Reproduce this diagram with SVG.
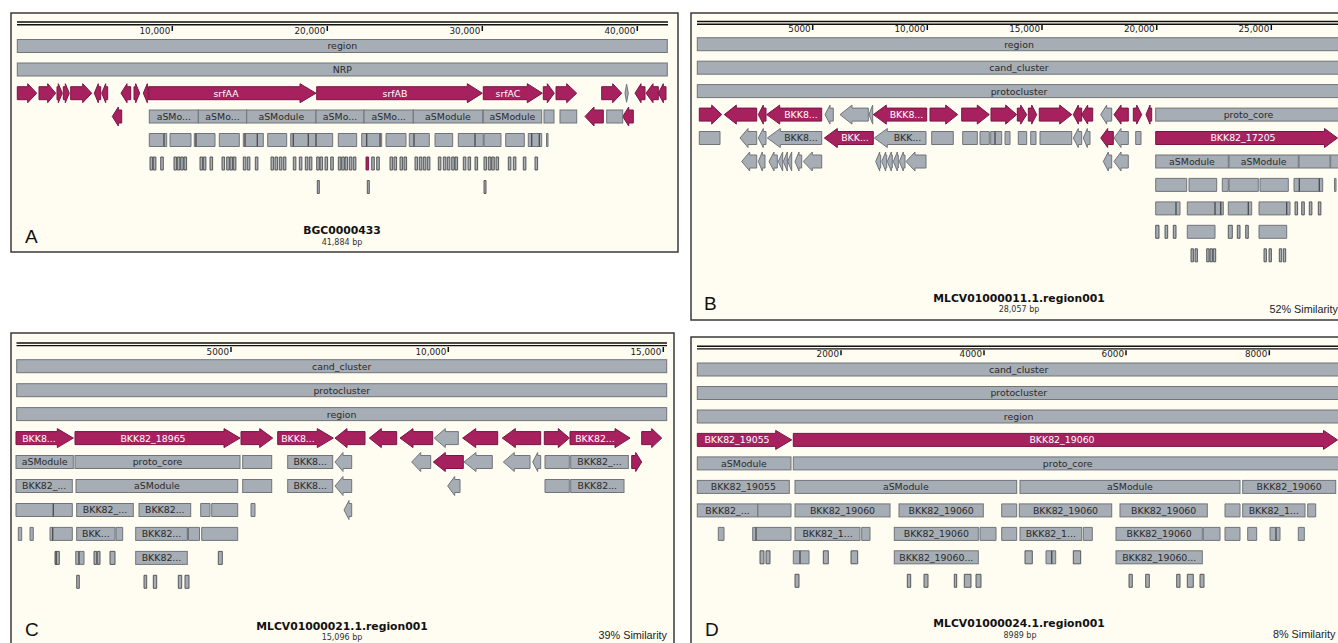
<svg xmlns="http://www.w3.org/2000/svg" width="1338" height="643" viewBox="0 0 1338 643">
<style>
.bg{fill:#fffcf2;stroke:#3a3a3a;stroke-width:1.5}
.rl{stroke:#111;stroke-width:1.4;fill:none}
.tk{stroke:#111;stroke-width:1.5;fill:none}
.tl{font-family:"DejaVu Sans",Verdana,sans-serif;font-size:8.8px;fill:#222;text-anchor:end}
.b{fill:#a6adb5;stroke:#6f757b;stroke-width:1}
.m{fill:#a8215f;stroke:#7a1445;stroke-width:1}
.ln{stroke:#4a4a4a;stroke-width:1.3;fill:none}
.bar{fill:#a6adb5;stroke:#4d4d4d;stroke-width:0.9}
.barm{fill:#a8215f;stroke:#7a1445;stroke-width:0.9}
.lb{font-family:"DejaVu Sans",Verdana,sans-serif;font-size:9.4px;fill:#2a2a2a;text-anchor:middle}
.lw{font-family:"DejaVu Sans",Verdana,sans-serif;font-size:9.4px;fill:#fff;text-anchor:middle}
.ttl{font-family:"DejaVu Sans",Verdana,sans-serif;font-size:10.8px;font-weight:bold;fill:#111;text-anchor:middle}
.sz{font-family:"DejaVu Sans",Verdana,sans-serif;font-size:8px;fill:#333;text-anchor:middle}
.pl{font-family:"Liberation Sans",Arial,sans-serif;font-size:19px;fill:#111}
.sim{font-family:"Liberation Sans",Arial,sans-serif;font-size:10.8px;fill:#222}
</style>
<rect width="1338" height="643" fill="#ffffff"/>

<!-- ================= PANEL A ================= -->
<g id="panel-A">
<rect class="bg" x="11" y="13" width="667" height="239"/>
<g id="A-ruler">
<path class="rl" d="M17 22H668M17 24.8H668"/>
<path class="tk" d="M172.3 26v5M327.3 26v5M482.3 26v5M637.3 26v5"/>
<text class="tl" x="170.3" y="33.5">10,000</text>
<text class="tl" x="325.3" y="33.5">20,000</text>
<text class="tl" x="480.3" y="33.5">30,000</text>
<text class="tl" x="635.3" y="33.5">40,000</text>
</g>
<g id="A-region"><rect class="b" x="17.3" y="39.5" width="650" height="13"/><text class="lb" x="342.3" y="49.4">region</text></g>
<g id="A-NRP"><rect class="b" x="17.3" y="63" width="650" height="13"/><text class="lb" x="342.3" y="72.9">NRP</text></g>
<g id="A-genes">
<path class="m" d="M17.3 86.7h10.4v-3l9 9.5l-9 9.5v-3h-10.4z M39 86.7h8.7v-3l8 9.5l-8 9.5v-3h-8.7z M57 86.7h1.3v-3l4 9.5l-4 9.5v-3h-1.3z M63.3 86.7h2v-3l4 9.5l-4 9.5v-3h-2z M70.7 86.7h12v-3l9 9.5l-9 9.5v-3h-12z M100.7 86.7h-2.4v-3l-4 9.5l4 9.5v-3h2.4z M107.7 86.7h-2v-3l-4 9.5l4 9.5v-3h2z M130.7 86.7h-3.7v-3l-6 9.5l6 9.5v-3h3.7z M134 86.7h1.7v-3l4 9.5l-4 9.5v-3h-1.7z M148.3 86.7h-1v-3l-4 9.5l4 9.5v-3h1z M543.3 86.7h4v-3l7 9.5l-7 9.5v-3h-4z M556 86.7h10.7v-3l10 9.5l-10 9.5v-3h-10.7z M601.7 86.7h11v-3l9 9.5l-9 9.5v-3h-11z M645 86.7h-4v-3l-6 9.5l6 9.5v-3h4z M658.3 86.7h-5.3v-3l-7 9.5l7 9.5v-3h5.3z M666 86.7h-2.7v-3l-5 9.5l5 9.5v-3h2.7z"/>
<path class="b" d="M626.6 84.2L628.3 93.2L626.6 102.2L625 93.2z"/>
<g id="A-srfAA"><path class="m" d="M148.8 86.7h151.2v-3l16 9.5l-16 9.5v-3h-151.2z"/><text class="lw" x="226" y="96.6">srfAA</text></g>
<g id="A-srfAB"><path class="m" d="M316.7 86.7h150.6v-3l15 9.5l-15 9.5v-3h-150.6z"/><text class="lw" x="395" y="96.6">srfAB</text></g>
<g id="A-srfAC"><path class="m" d="M483.3 86.7h44v-3l15 9.5l-15 9.5v-3h-44z"/><text class="lw" x="508" y="96.6">srfAC</text></g>
</g>
<g id="A-row3">
<path class="m" d="M121.7 110h-3.4v-3l-6 9.5l6 9.5v-3h3.4z M603.3 110h-9.3v-3l-9 9.5l9 9.5v-3h9.3z M633.3 110h-4.6v-3l-6 9.5l6 9.5v-3h4.6z"/>
<rect class="b" x="149.3" y="110" width="49" height="13"/><text class="lb" x="173.8" y="119.9">aSMo...</text>
<rect class="b" x="198.3" y="110" width="48.4" height="13"/><text class="lb" x="222.5" y="119.9">aSMo...</text>
<rect class="b" x="246.7" y="110" width="69.3" height="13"/><text class="lb" x="281.3" y="119.9">aSModule</text>
<rect class="b" x="316" y="110" width="48" height="13"/><text class="lb" x="340" y="119.9">aSMo...</text>
<rect class="b" x="364" y="110" width="49.3" height="13"/><text class="lb" x="388.7" y="119.9">aSMo...</text>
<rect class="b" x="413.3" y="110" width="69.4" height="13"/><text class="lb" x="448" y="119.9">aSModule</text>
<rect class="b" x="483.3" y="110" width="58.4" height="13"/><text class="lb" x="512.5" y="119.9">aSModule</text>
<rect class="b" x="544" y="110" width="10" height="13"/>
<rect class="b" x="560" y="110" width="16.7" height="13"/>
<rect class="b" x="606.7" y="110" width="16" height="13"/>
</g>
<g id="A-row4">
<path class="b" d="M149.3 133.5h17.4v13h-17.4z M170 133.5h21v13h-21z M194.3 133.5h20.7v13h-20.7z M219.3 133.5h20v13h-20z M243.3 133.5h20v13h-20z M267.7 133.5h19v13h-19z M290.7 133.5h42v13h-42z M338.3 133.5h18.4v13h-18.4z M361.7 133.5h20v13h-20z M386 133.5h20v13h-20z M409.3 133.5h20v13h-20z M435 133.5h17.7v13h-17.7z M458.3 133.5h25v13h-25z M484 133.5h17v13h-17z M505.7 133.5h18.6v13h-18.6z M528.3 133.5h13.4v13h-13.4z M546.5 133.5h1.5v13h-1.5z"/>
<path class="ln" d="M164 133.5v13M196 133.5v13M245 133.5v13M257.3 133.5v13M293.3 133.5v13M308.3 133.5v13M316 133.5v13M366.7 133.5v13M380 133.5v13M414 133.5v13M475 133.5v13M531.7 133.5v13M539.3 133.5v13"/>
</g>
<g id="A-row5">
<path class="bar" d="M150 157h2.6v13h-2.6z M153.3 157h2.6v13h-2.6z M160.7 157h2.6v13h-2.6z M174 157h2.6v13h-2.6z M177.3 157h2.6v13h-2.6z M180.7 157h2.6v13h-2.6z M184 157h2.6v13h-2.6z M200 157h2.6v13h-2.6z M203.3 157h2.6v13h-2.6z M210 157h2.6v13h-2.6z M222 157h2.6v13h-2.6z M226.7 157h2.6v13h-2.6z M230 157h2.6v13h-2.6z M233.3 157h2.6v13h-2.6z M243.3 157h2.6v13h-2.6z M247.3 157h2.6v13h-2.6z M255.3 157h2.6v13h-2.6z M271 157h2.6v13h-2.6z M275 157h2.6v13h-2.6z M279.3 157h2.6v13h-2.6z M283.3 157h2.6v13h-2.6z M293.3 157h2.6v13h-2.6z M299.3 157h2.6v13h-2.6z M305.3 157h2.6v13h-2.6z M309.3 157h2.6v13h-2.6z M316.7 157h2.6v13h-2.6z M320 157h2.6v13h-2.6z M325 157h2.6v13h-2.6z M330.7 157h2.6v13h-2.6z M338.3 157h2.6v13h-2.6z M341.7 157h2.6v13h-2.6z M345 157h2.6v13h-2.6z M349.3 157h2.6v13h-2.6z M353.3 157h2.6v13h-2.6z M371.7 157h2.6v13h-2.6z M376.7 157h2.6v13h-2.6z M390 157h2.6v13h-2.6z M394 157h2.6v13h-2.6z M400 157h2.6v13h-2.6z M404 157h2.6v13h-2.6z M415 157h2.6v13h-2.6z M419.3 157h2.6v13h-2.6z M423.3 157h2.6v13h-2.6z M427.3 157h2.6v13h-2.6z M438.3 157h2.6v13h-2.6z M443.3 157h2.6v13h-2.6z M447.3 157h2.6v13h-2.6z M451.7 157h2.6v13h-2.6z M455 157h2.6v13h-2.6z M463.3 157h2.6v13h-2.6z M468 157h2.6v13h-2.6z M475 157h2.6v13h-2.6z M484 157h2.6v13h-2.6z M488.3 157h2.6v13h-2.6z M491.7 157h2.6v13h-2.6z M496 157h2.6v13h-2.6z M508.3 157h2.6v13h-2.6z M513.3 157h2.6v13h-2.6z M523.3 157h2.6v13h-2.6z M535 157h2.6v13h-2.6z"/>
<path class="barm" d="M366 157h2.6v13h-2.6z"/>
</g>
<g id="A-row6"><path class="bar" d="M317.3 180.5h2v13h-2z M367.3 180.5h2v13h-2z M484 180.5h2v13h-2z"/></g>
<g id="A-caption">
<text class="pl" x="25" y="243">A</text>
<text class="ttl" x="342" y="234">BGC0000433</text>
<text class="sz" x="342" y="245">41,884 bp</text>
</g>
</g>

<!-- ================= PANEL B ================= -->
<g id="panel-B">
<rect class="bg" x="691" y="13" width="700" height="307"/>
<g id="B-ruler">
<path class="rl" d="M697 21.5H1340M697 24.2H1340"/>
<path class="tk" d="M812.7 25v5M927.3 25v5M1042 25v5M1156.7 25v5M1271.3 25v5"/>
<text class="tl" x="810.7" y="32.3">5000</text>
<text class="tl" x="925.3" y="32.3">10,000</text>
<text class="tl" x="1040" y="32.3">15,000</text>
<text class="tl" x="1154.7" y="32.3">20,000</text>
<text class="tl" x="1269.3" y="32.3">25,000</text>
</g>
<g id="B-region"><rect class="b" x="697.3" y="37.7" width="644" height="13"/><text class="lb" x="1019" y="47.6">region</text></g>
<g id="B-cand"><rect class="b" x="697.3" y="61.2" width="644" height="13"/><text class="lb" x="1019" y="71.1">cand_cluster</text></g>
<g id="B-proto"><rect class="b" x="697.3" y="84.6" width="644" height="13"/><text class="lb" x="1019" y="94.5">protocluster</text></g>
<g id="B-genes">
<path class="m" d="M699.3 108.1h12.4v-3l10 9.5l-10 9.5v-3h-12.4z M756.7 108.1h-20.4v-3l-12 9.5l12 9.5v-3h20.4z M766 108.1h-2.7v-3l-5 9.5l5 9.5v-3h2.7z M930 108.1h15.7v-3l12 9.5l-12 9.5v-3h-15.7z M961.7 108.1h15.6v-3l12 9.5l-12 9.5v-3h-15.6z M991 108.1h14.7v-3l11 9.5l-11 9.5v-3h-14.7z M1017.3 108.1h3.4v-3l6 9.5l-6 9.5v-3h-3.4z M1028.3 108.1h3.4v-3l5 9.5l-5 9.5v-3h-3.4z M1039.3 108.1h20.4v-3l12 9.5l-12 9.5v-3h-20.4z M1081.7 108.1h-3.4v-3l-5 9.5l5 9.5v-3h3.4z M1092.7 108.1h-5v-3l-6 9.5l6 9.5v-3h5z M1128.3 108.1h-7.3v-3l-7 9.5l7 9.5v-3h7.3z M1133.3 108.1h3.4v-3l5 9.5l-5 9.5v-3h-3.4z M1151.7 108.1h-1.7v-3l-4 9.5l4 9.5v-3h1.7z"/>
<path class="b" d="M833.3 108.1h-3.3v-3l-5 9.5l5 9.5v-3h3.3z M868.3 108.1h-16.3v-3l-12 9.5l12 9.5v-3h16.3z M872.7 105.1l-3.7 9.5l3.7 9.5z M1111.7 108.1h-5v-3l-6 9.5l6 9.5v-3h5z"/>
<g id="B-gene-a"><path class="m" d="M821.7 108.1h-42v-3l-13 9.5l13 9.5v-3h42z"/><text class="lw" x="801" y="118">BKK8...</text></g>
<g id="B-gene-b"><path class="m" d="M926.7 108.1h-40.4v-3l-13 9.5l13 9.5v-3h40.4z"/><text class="lw" x="906.5" y="118">BKK8...</text></g>
<g id="B-protocore"><rect class="b" x="1155.7" y="108.1" width="186" height="13"/><text class="lb" x="1248.5" y="118">proto_core</text></g>
</g>
<g id="B-row5">
<path class="b" d="M699.3 131.5h20.7v13h-20.7z M756.7 131.5h-8.7v-3l-8 9.5l8 9.5v-3h8.7z M766 131.5h-2.7v-3l-5 9.5l5 9.5v-3h2.7z M931.7 131.5h21.6v13h-21.6z M962.7 131.5h14.6v13h-14.6z M980 131.5h9.3v13h-9.3z M990.7 131.5h11v13h-11z M1005 131.5h5v13h-5z M1018.3 131.5h8.4v13h-8.4z M1030.7 131.5h5.3v13h-5.3z M1040 131.5h31.7v13h-31.7z M1081.7 131.5h-3.4v-3l-5 9.5l5 9.5v-3h3.4z M1090 131.5h-2.7v-3l-4 9.5l4 9.5v-3h2.7z M1128.3 131.5h-7.3v-3l-7 9.5l7 9.5v-3h7.3z M1135.7 131.5h5.3v13h-5.3z"/>
<path class="ln" d="M995 131.5v13"/>
<path class="m" d="M1113.3 131.5h-5.6v-3l-7 9.5l7 9.5v-3h5.6z"/>
<g id="B-gene-c"><path class="b" d="M821.7 131.5h-41.4v-3l-13 9.5l13 9.5v-3h41.4z"/><text class="lb" x="801" y="141.4">BKK8...</text></g>
<g id="B-gene-d"><path class="m" d="M873.3 131.5h-36v-3l-13 9.5l13 9.5v-3h36z"/><text class="lw" x="855" y="141.4">BKK...</text></g>
<g id="B-gene-e"><path class="b" d="M926 131.5h-38.7v-3l-13 9.5l13 9.5v-3h38.7z"/><text class="lb" x="907.5" y="141.4">BKK...</text></g>
<g id="B-BKK82_17205"><path class="m" d="M1155.7 131.5h168.8v-3l13 9.5l-13 9.5v-3h-168.8z"/><text class="lw" x="1243" y="141.4">BKK82_17205</text></g>
</g>
<g id="B-row6">
<path class="b" d="M756.7 155h-7v-3l-8 9.5l8 9.5v-3h7z M765 155h-2.7v-3l-4 9.5l4 9.5v-3h2.7z M777.3 155h-3.3v-3l-5 9.5l5 9.5v-3h3.3z M782.7 152l-4.4 9.5l4.4 9.5z M787.3 152l-4 9.5l4 9.5z M791.7 152l-4 9.5l4 9.5z M801.7 155h-2.7v-3l-4 9.5l4 9.5v-3h2.7z M821.7 155h-9.4v-3l-9 9.5l9 9.5v-3h9.4z M880.7 155h-1v-3l-4 9.5l4 9.5v-3h1z M886.7 155h-1v-3l-4 9.5l4 9.5v-3h1z M892.3 155h-1v-3l-4 9.5l4 9.5v-3h1z M898.3 155h-1v-3l-4 9.5l4 9.5v-3h1z M905 155h-1.7v-3l-4 9.5l4 9.5v-3h1.7z M926 155h-11v-3l-9 9.5l9 9.5v-3h11z M1111.7 155h-3.4v-3l-5 9.5l5 9.5v-3h3.4z M1128.3 155h-7.3v-3l-7 9.5l7 9.5v-3h7.3z"/>
<rect class="b" x="1155.7" y="155" width="72.6" height="13"/><text class="lb" x="1192" y="164.9">aSModule</text>
<rect class="b" x="1229" y="155" width="69.3" height="13"/><text class="lb" x="1263.7" y="164.9">aSModule</text>
<rect class="b" x="1299" y="155" width="31" height="13"/>
<rect class="b" x="1330.7" y="155" width="11" height="13"/>
</g>
<g id="B-row7">
<path class="b" d="M1155.7 178.4h31v13h-31z M1189 178.4h27.7v13h-27.7z M1222.3 178.4h6v13h-6z M1229 178.4h29.3v13h-29.3z M1260 178.4h28.3v13h-28.3z M1294 178.4h28.7v13h-28.7z M1334.5 178.4h1.5v13h-1.5z"/>
<path class="ln" d="M1299.3 178.4v13M1319.3 178.4v13"/>
</g>
<g id="B-row8">
<path class="b" d="M1155.7 201.9h24.3v13h-24.3z M1187.3 201.9h36v13h-36z M1228.3 201.9h23.4v13h-23.4z M1259 201.9h31v13h-31z"/>
<path class="ln" d="M1176 201.9v13M1215 201.9v13M1220.7 201.9v13M1248.3 201.9v13M1286.7 201.9v13"/>
<path class="bar" d="M1295 201.9h2.6v13h-2.6z M1301.7 201.9h2.6v13h-2.6z M1309.3 201.9h2.6v13h-2.6z M1318.3 201.9h2.6v13h-2.6z"/>
</g>
<g id="B-row9">
<path class="bar" d="M1155.7 225.3h3.3v13h-3.3z M1165 225.3h2.7v13h-2.7z M1173.3 225.3h2.7v13h-2.7z M1228.3 225.3h4v13h-4z M1237.3 225.3h2.7v13h-2.7z M1245.7 225.3h2.6v13h-2.6z"/>
<path class="b" d="M1187.3 225.3h27.7v13h-27.7z M1259 225.3h27.7v13h-27.7z"/>
</g>
<g id="B-row10">
<path class="bar" d="M1191 248.8h2.4v13h-2.4z M1195 248.8h2.4v13h-2.4z M1206.7 248.8h2.4v13h-2.4z M1210 248.8h2.4v13h-2.4z M1213.3 248.8h2.4v13h-2.4z M1264 248.8h2.4v13h-2.4z M1269 248.8h2.4v13h-2.4z M1279.3 248.8h2.4v13h-2.4z M1283.3 248.8h2.4v13h-2.4z"/>
</g>
<g id="B-caption">
<text class="pl" x="704" y="310">B</text>
<text class="ttl" x="1019" y="301.5">MLCV01000011.1.region001</text>
<text class="sz" x="1019" y="311.5">28,057 bp</text>
<text class="sim" x="1269.5" y="313">52% Similarity</text>
</g>
</g>

<!-- ================= PANEL C ================= -->
<g id="panel-C">
<rect class="bg" x="11" y="333" width="663" height="320"/>
<g id="C-ruler">
<path class="rl" d="M16.5 343H667M16.5 345.6H667"/>
<path class="tk" d="M231 347v5M448.3 347v5M663.3 347v5"/>
<text class="tl" x="229" y="354.7">5000</text>
<text class="tl" x="446.3" y="354.7">10,000</text>
<text class="tl" x="661.3" y="354.7">15,000</text>
</g>
<g id="C-cand"><rect class="b" x="16.7" y="359.7" width="650" height="13"/><text class="lb" x="341.7" y="369.6">cand_cluster</text></g>
<g id="C-proto"><rect class="b" x="16.7" y="383.7" width="650" height="13"/><text class="lb" x="341.7" y="393.6">protocluster</text></g>
<g id="C-region"><rect class="b" x="16.7" y="407.6" width="650" height="13"/><text class="lb" x="341.7" y="417.5">region</text></g>
<g id="C-genes">
<path class="m" d="M241 431.6h18.7v-3l13 9.5l-13 9.5v-3h-18.7z M365 431.6h-18v-3l-12 9.5l12 9.5v-3h18z M396.7 431.6h-15.4v-3l-12 9.5l12 9.5v-3h15.4z M432.7 431.6h-19.7v-3l-13 9.5l13 9.5v-3h19.7z M497.7 431.6h-22v-3l-13 9.5l13 9.5v-3h22z M540.7 431.6h-25.4v-3l-13 9.5l13 9.5v-3h25.4z M544.3 431.6h14v-3l11 9.5l-11 9.5v-3h-14z M641.7 431.6h10v-3l10 9.5l-10 9.5v-3h-10z"/>
<path class="b" d="M458.3 431.6h-13v-3l-11 9.5l11 9.5v-3h13z"/>
<g id="C-gene-a"><path class="m" d="M16 431.6h41.3v-3l16 9.5l-16 9.5v-3h-41.3z"/><text class="lw" x="39" y="441.5">BKK8...</text></g>
<g id="C-BKK82_18965"><path class="m" d="M75 431.6h149v-3l16 9.5l-16 9.5v-3h-149z"/><text class="lw" x="153" y="441.5">BKK82_18965</text></g>
<g id="C-gene-b"><path class="m" d="M277.7 431.6h39.6v-3l16 9.5l-16 9.5v-3h-39.6z"/><text class="lw" x="298" y="441.5">BKK8...</text></g>
<g id="C-gene-c"><path class="m" d="M570 431.6h45v-3l15 9.5l-15 9.5v-3h-45z"/><text class="lw" x="595" y="441.5">BKK82...</text></g>
</g>
<g id="C-row5">
<rect class="b" x="16" y="455.5" width="57.3" height="13"/><text class="lb" x="44.7" y="465.4">aSModule</text>
<rect class="b" x="75" y="455.5" width="165" height="13"/><text class="lb" x="157.5" y="465.4">proto_core</text>
<rect class="b" x="242.7" y="455.5" width="29" height="13"/>
<rect class="b" x="287.7" y="455.5" width="45" height="13"/><text class="lb" x="310.2" y="465.4">BKK8...</text>
<path class="b" d="M351.7 455.5h-8.7v-3l-8 9.5l8 9.5v-3h8.7z M430.7 455.5h-10v-3l-9 9.5l9 9.5v-3h10z M492.3 455.5h-16.3v-3l-12 9.5l12 9.5v-3h16.3z M530 455.5h-15.7v-3l-11 9.5l11 9.5v-3h15.7z M540.7 455.5h-3v-3l-5 9.5l5 9.5v-3h3z M545 455.5h24.3v13h-24.3z"/>
<path class="m" d="M463.3 455.5h-18v-3l-12 9.5l12 9.5v-3h18z M631.7 455.5h4v-3l6 9.5l-6 9.5v-3h-4z"/>
<rect class="b" x="570.7" y="455.5" width="57.6" height="13"/><text class="lb" x="599.5" y="465.4">BKK82_...</text>
</g>
<g id="C-row6">
<rect class="b" x="16" y="479.5" width="56.3" height="13"/><text class="lb" x="44.2" y="489.4">BKK82_...</text>
<rect class="b" x="76" y="479.5" width="161.7" height="13"/><text class="lb" x="157" y="489.4">aSModule</text>
<rect class="b" x="242.7" y="479.5" width="29" height="13"/>
<rect class="b" x="287.7" y="479.5" width="45" height="13"/><text class="lb" x="310.2" y="489.4">BKK8...</text>
<path class="b" d="M351.7 479.5h-8.7v-3l-8 9.5l8 9.5v-3h8.7z M460 479.5h-5.3v-3l-7 9.5l7 9.5v-3h5.3z M545 479.5h24.3v13h-24.3z"/>
<rect class="b" x="570.7" y="479.5" width="53.3" height="13"/><text class="lb" x="597.3" y="489.4">BKK82...</text>
</g>
<g id="C-row7">
<path class="b" d="M16 503.5h56.3v13h-56.3z M200.7 503.5h9.3v13h-9.3z M211.7 503.5h26v13h-26z M251 503.5h4v13h-4z M351.7 503.5h-2.7v-3l-5 9.5l5 9.5v-3h2.7z"/>
<path class="ln" d="M53.3 503.5v13"/>
<rect class="b" x="76.7" y="503.5" width="56.6" height="13"/><text class="lb" x="105" y="513.4">BKK82_...</text>
<rect class="b" x="139" y="503.5" width="51.7" height="13"/><text class="lb" x="164.8" y="513.4">BKK82...</text>
</g>
<g id="C-row8">
<path class="b" d="M18.3 527.4h3.4v13h-3.4z M30 527.4h3.3v13h-3.3z M50 527.4h22.3v13h-22.3z M116 527.4h6.7v13h-6.7z M188.5 527.4h11v13h-11z M201.7 527.4h36v13h-36z"/>
<path class="ln" d="M52.7 527.4v13M187 527.4v13"/>
<rect class="b" x="76.7" y="527.4" width="38.3" height="13"/><text class="lb" x="95.8" y="537.3">BKK...</text>
<rect class="b" x="135.7" y="527.4" width="51.6" height="13"/><text class="lb" x="161.5" y="537.3">BKK82...</text>
</g>
<g id="C-row9">
<path class="bar" d="M55 551.4h4.3v13h-4.3z M94 551.4h2.7v13h-2.7z M97.3 551.4h2.7v13h-2.7z M110 551.4h5v13h-5z M218.3 551.4h4v13h-4z"/>
<path class="b" d="M75.7 551.4h8.3v13h-8.3z"/>
<path class="ln" d="M56.2 551.4v13M79 551.4v13"/>
<rect class="b" x="135.7" y="551.4" width="51.6" height="13"/><text class="lb" x="161.5" y="561.3">BKK82...</text>
</g>
<g id="C-row10">
<path class="bar" d="M76.7 575.3h2.6v13h-2.6z M144 575.3h2.7v13h-2.7z M153.3 575.3h3.4v13h-3.4z M178.3 575.3h3.4v13h-3.4z M185 575.3h4v13h-4z"/>
</g>
<g id="C-caption">
<text class="pl" x="25" y="636">C</text>
<text class="ttl" x="342" y="629.5">MLCV01000021.1.region001</text>
<text class="sz" x="342" y="640">15,096 bp</text>
<text class="sim" x="667" y="639" text-anchor="end">39% Similarity</text>
</g>
</g>

<!-- ================= PANEL D ================= -->
<g id="panel-D">
<rect class="bg" x="691" y="337" width="700" height="320"/>
<g id="D-ruler">
<path class="rl" d="M697 346.3H1340M697 348.9H1340"/>
<path class="tk" d="M841 350.3v5M984 350.3v5M1126 350.3v5M1269.3 350.3v5"/>
<text class="tl" x="839" y="357.3">2000</text>
<text class="tl" x="982" y="357.3">4000</text>
<text class="tl" x="1124" y="357.3">6000</text>
<text class="tl" x="1267.3" y="357.3">8000</text>
</g>
<g id="D-cand"><rect class="b" x="697.3" y="363" width="643" height="13"/><text class="lb" x="1018.7" y="372.9">cand_cluster</text></g>
<g id="D-proto"><rect class="b" x="697.3" y="386.5" width="643" height="13"/><text class="lb" x="1018.7" y="396.4">protocluster</text></g>
<g id="D-region"><rect class="b" x="697.3" y="410" width="643" height="13"/><text class="lb" x="1018.7" y="419.9">region</text></g>
<g id="D-genes">
<g id="D-BKK82_19055"><path class="m" d="M697.3 433.4h78.4v-3l16 9.5l-16 9.5v-3h-78.4z"/><text class="lw" x="737" y="443.3">BKK82_19055</text></g>
<g id="D-BKK82_19060"><path class="m" d="M793.3 433.4h530.2v-3l14 9.5l-14 9.5v-3h-530.2z"/><text class="lw" x="1062" y="443.3">BKK82_19060</text></g>
</g>
<g id="D-row5">
<rect class="b" x="697.3" y="456.9" width="93.7" height="13"/><text class="lb" x="744" y="466.8">aSModule</text>
<rect class="b" x="793.3" y="456.9" width="547" height="13"/><text class="lb" x="1067.7" y="466.8">proto_core</text>
</g>
<g id="D-row6">
<rect class="b" x="697.3" y="480.4" width="92" height="13"/><text class="lb" x="743.3" y="490.3">BKK82_19055</text>
<rect class="b" x="795" y="480.4" width="221.7" height="13"/><text class="lb" x="905.8" y="490.3">aSModule</text>
<rect class="b" x="1020" y="480.4" width="220" height="13"/><text class="lb" x="1130" y="490.3">aSModule</text>
<rect class="b" x="1242.7" y="480.4" width="93" height="13"/><text class="lb" x="1289.2" y="490.3">BKK82_19060</text>
</g>
<g id="D-row7">
<path class="b" d="M757.7 503.9h33.3v13h-33.3z M1001.7 503.9h15v13h-15z M1225 503.9h15v13h-15z M1307.7 503.9h8v13h-8z"/>
<rect class="b" x="697.3" y="503.9" width="60.4" height="13"/><text class="lb" x="727.5" y="513.8">BKK82_...</text>
<rect class="b" x="795" y="503.9" width="95" height="13"/><text class="lb" x="842.5" y="513.8">BKK82_19060</text>
<rect class="b" x="899" y="503.9" width="84.3" height="13"/><text class="lb" x="941.2" y="513.8">BKK82_19060</text>
<rect class="b" x="1019.3" y="503.9" width="92.4" height="13"/><text class="lb" x="1065.5" y="513.8">BKK82_19060</text>
<rect class="b" x="1120" y="503.9" width="87.3" height="13"/><text class="lb" x="1163.7" y="513.8">BKK82_19060</text>
<rect class="b" x="1242.7" y="503.9" width="62.3" height="13"/><text class="lb" x="1273.8" y="513.8">BKK82_1...</text>
</g>
<g id="D-row8">
<path class="b" d="M718.3 527.4h5.7v13h-5.7z M752.7 527.4h38.3v13h-38.3z M861.7 527.4h8.3v13h-8.3z M980 527.4h16v13h-16z M1001.7 527.4h15v13h-15z M1083.3 527.4h9v13h-9z M1203.3 527.4h16.7v13h-16.7z M1225 527.4h15v13h-15z M1247.7 527.4h9v13h-9z M1270 527.4h10v13h-10z M1298.3 527.4h6v13h-6z"/>
<path class="ln" d="M756 527.4v13M1276 527.4v13"/>
<rect class="b" x="795" y="527.4" width="65" height="13"/><text class="lb" x="827.5" y="537.3">BKK82_1...</text>
<rect class="b" x="894.3" y="527.4" width="84" height="13"/><text class="lb" x="936.3" y="537.3">BKK82_19060</text>
<rect class="b" x="1020" y="527.4" width="61.7" height="13"/><text class="lb" x="1050.8" y="537.3">BKK82_1...</text>
<rect class="b" x="1116" y="527.4" width="86.3" height="13"/><text class="lb" x="1159.2" y="537.3">BKK82_19060</text>
</g>
<g id="D-row9">
<path class="bar" d="M760 550.8h4v13h-4z M766 550.8h4v13h-4z M823.3 550.8h5v13h-5z M851 550.8h6.7v13h-6.7z M1025 550.8h7.3v13h-7.3z M1073.3 550.8h7.4v13h-7.4z"/>
<path class="b" d="M793.3 550.8h15.7v13h-15.7z M1046 550.8h9.7v13h-9.7z"/>
<path class="ln" d="M800 550.8v13M1051.7 550.8v13"/>
<rect class="b" x="894.3" y="550.8" width="84" height="13"/><text class="lb" x="936.3" y="560.7">BKK82_19060...</text>
<rect class="b" x="1116" y="550.8" width="86.3" height="13"/><text class="lb" x="1159.2" y="560.7">BKK82_19060...</text>
</g>
<g id="D-row10">
<path class="bar" d="M795 574.3h4v13h-4z M907.3 574.3h3.4v13h-3.4z M924 574.3h4v13h-4z M954.3 574.3h2.4v13h-2.4z M964.3 574.3h6.7v13h-6.7z M976 574.3h5v13h-5z M1129 574.3h3.3v13h-3.3z M1145.7 574.3h3.6v13h-3.6z M1176.7 574.3h3.3v13h-3.3z M1187.3 574.3h6v13h-6z M1200 574.3h4v13h-4z"/>
</g>
<g id="D-caption">
<text class="pl" x="705" y="636">D</text>
<text class="ttl" x="1019" y="627">MLCV01000024.1.region001</text>
<text class="sz" x="1020" y="638">8989 bp</text>
<text class="sim" x="1273" y="638">8% Similarity</text>
</g>
</g>
</svg>
